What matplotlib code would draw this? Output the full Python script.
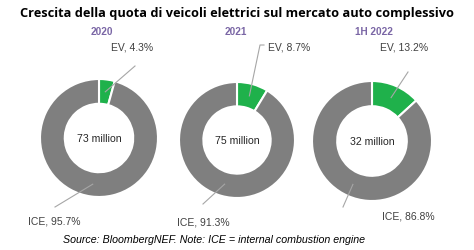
import matplotlib.pyplot as plt
import numpy as np

# data
years = ['2020', '2021', '1H 2022']
ev_share = [4.3, 8.7, 13.2]
ice_share = [95.7, 91.3, 86.8]
totals = ['73 million', '75 million', '32 million']

title = 'Crescita della quota di veicoli elettrici sul mercato auto complessivo'
source = 'Source: BloombergNEF. Note: ICE = internal combustion engine'

green = '#1fb14b'
grey = '#7f7f7f'
purple = '#7a66a5'
txt = '#404040'
line_c = '#a6a6a6'

W, H = 474, 251

# layout in pixels (y measured from the top)
centers = [(99, 139), (237, 141), (372, 142)]
radii = [59, 58, 60]
ring = 0.42
year_pos = [(102, 32), (236, 32), (374, 32)]
ev_lab = [(111, 48), (268, 48), (380, 48)]
ev_end = [(135, 67), (260, 46), (408, 73)]
ice_lab = [(28, 222), (177, 223), (382, 217)]
ice_end = [(55, 208), (203, 205), (343, 208)]

fig = plt.figure(figsize=(W / 100, H / 100), dpi=100)
ax = fig.add_axes([0, 0, 1, 1])

def fy(y):
    return H - y

for i in range(3):
    cx, cy = centers[i]
    r = radii[i]
    wedges, _ = ax.pie([ev_share[i], ice_share[i]], colors=[green, grey],
                       startangle=90, counterclock=False,
                       center=(cx, fy(cy)), radius=r,
                       wedgeprops=dict(width=r * ring, edgecolor='white', linewidth=1.5))
    rm = r * (1 - ring / 2)
    # leader lines start in the middle of each wedge
    for w, end in [(wedges[0], ev_end[i]), (wedges[1], ice_end[i])]:
        a = np.deg2rad((w.theta1 + w.theta2) / 2)
        px, py = cx + rm * np.cos(a), fy(cy) + rm * np.sin(a)
        xs = [px, end[0]]
        ys = [py, fy(end[1])]
        if i == 1 and w is wedges[0]:
            xs.append(end[0] + 4)
            ys.append(fy(end[1]))
        ax.plot(xs, ys, color=line_c, lw=0.8)
    ax.text(cx, fy(cy), totals[i], ha='center', va='center', fontsize=7.6,
            family='Liberation Sans', color='#262626')
    ax.text(year_pos[i][0], fy(year_pos[i][1]), years[i], ha='center', va='center',
            fontsize=7.2, fontweight='bold', family='Liberation Sans', color=purple)
    ax.text(ev_lab[i][0], fy(ev_lab[i][1]), 'EV, %.1f%%' % ev_share[i], ha='left',
            va='center', fontsize=7.5, family='Liberation Sans', color=txt)
    ax.text(ice_lab[i][0], fy(ice_lab[i][1]), 'ICE, %.1f%%' % ice_share[i], ha='left',
            va='center', fontsize=7.5, family='Liberation Sans', color=txt)

ax.text(W / 2, fy(13), title, ha='center', va='center', fontsize=9.2,
        fontweight='bold', family='Open Sans', color='black')
ax.text(63, fy(240), source, ha='left', va='center', fontsize=7.7,
        style='italic', family='Liberation Sans', color='black')

ax.set_xlim(0, W)
ax.set_ylim(0, H)
ax.set_aspect('auto')
ax.axis('off')

fig.savefig('out.png', dpi=100)
